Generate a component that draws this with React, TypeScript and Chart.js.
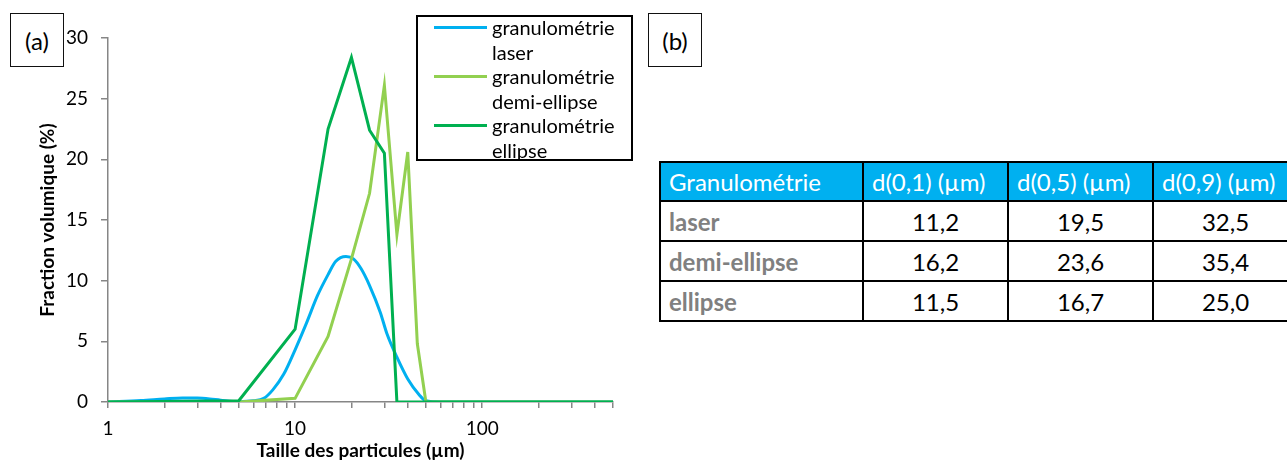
import React, { useEffect, useRef } from 'react';
import { Chart, registerables } from 'chart.js';

Chart.register(...registerables);

const FONT = 'Lato, "Open Sans", sans-serif';

// ---- Data ----
const seriesNames = ['granulométrie laser', 'granulométrie demi-ellipse', 'granulométrie ellipse'];
const seriesColors = ['#00B0F0', '#92D050', '#00B050'];

const laserSize = [1, 1.5, 2, 2.5, 3, 3.5, 4, 5, 6, 6.8, 7.6, 8.7, 10, 11.5, 13.2, 15, 16.5, 18.7, 20.5, 22.5, 25, 28.5, 31, 35, 40, 46, 50, 60, 500];
const laserFraction = [0, 0.12, 0.25, 0.33, 0.32, 0.25, 0.15, 0.03, 0.1, 0.3, 1.0, 2.3, 4.3, 6.5, 8.8, 10.5, 11.6, 12.0, 11.8, 11.0, 9.6, 7.4, 5.6, 3.7, 1.9, 0.6, 0.1, 0, 0];

const demiSize = [1, 5, 10, 15, 20, 25, 30, 35, 40, 45, 50, 500];
const demiFraction = [0, 0, 0.3, 5.4, 11.8, 17.2, 26.1, 13.8, 20.6, 4.8, 0, 0];

const ellipseSize = [1, 5, 10, 15, 20, 25, 30, 35, 500];
const ellipseFraction = [0, 0.1, 6, 22.5, 28.4, 22.4, 20.5, 0, 0];

const xTickValues = [1, 2, 3, 4, 5, 6, 7, 8, 9, 10, 20, 30, 40, 50, 60, 70, 80, 90, 100, 200, 300, 400, 500];
const xTickLabeled = [1, 10, 100];
const xMin = 1;
const xMax = 500;
const yMin = 0;
const yMax = 30;
const yStep = 5;

const xTitle = 'Taille des particules (µm)';
const yTitle = 'Fraction volumique (%)';

const tableHeader = ['Granulométrie', 'd(0,1) (µm)', 'd(0,5) (µm)', 'd(0,9) (µm)'];
const tableRowLabels = ['laser', 'demi-ellipse', 'ellipse'];
const d10 = ['11,2', '16,2', '11,5'];
const d50 = ['19,5', '23,6', '16,7'];
const d90 = ['32,5', '35,4', '25,0'];

const toPoints = (xs: number[], ys: number[]) => xs.map((x, i) => ({ x, y: ys[i] }));

function ChartCanvas() {
  const ref = useRef<HTMLCanvasElement | null>(null);
  useEffect(() => {
    if (!ref.current) return;
    const chart = new Chart(ref.current, {
      type: 'line',
      data: {
        datasets: [
          {
            label: seriesNames[0],
            data: toPoints(laserSize, laserFraction),
            borderColor: seriesColors[0],
            backgroundColor: seriesColors[0],
            borderWidth: 3,
            pointRadius: 0,
            cubicInterpolationMode: 'monotone',
            order: 3,
          },
          {
            label: seriesNames[1],
            data: toPoints(demiSize, demiFraction),
            borderColor: seriesColors[1],
            backgroundColor: seriesColors[1],
            borderWidth: 3,
            pointRadius: 0,
            tension: 0,
            order: 2,
          },
          {
            label: seriesNames[2],
            data: toPoints(ellipseSize, ellipseFraction),
            borderColor: seriesColors[2],
            backgroundColor: seriesColors[2],
            borderWidth: 3,
            pointRadius: 0,
            tension: 0,
            order: 1,
          },
        ],
      },
      options: {
        animation: false,
        responsive: false,
        devicePixelRatio: 1,
        layout: { padding: { top: 38, right: 27, left: 0, bottom: 0 } },
        plugins: { legend: { display: false }, tooltip: { enabled: false } },
        scales: {
          x: {
            type: 'logarithmic',
            min: xMin,
            max: xMax,
            afterBuildTicks: (s: any) => {
              s.ticks = xTickValues.map((v) => ({ value: v }));
            },
            afterFit: (s: any) => {
              s.height = 59;
            },
            ticks: {
              autoSkip: false,
              maxRotation: 0,
              padding: 9,
              color: '#000',
              font: { family: FONT, size: 19 },
              callback: (v: any) => (xTickLabeled.includes(Number(v)) ? String(v) : ''),
            },
            grid: { drawOnChartArea: false, tickLength: 6, color: '#868686', lineWidth: 1.5 },
            border: { color: '#868686', width: 1.5 },
            title: {
              display: true,
              text: xTitle,
              color: '#000',
              font: { family: FONT, size: 19, weight: 'bold' },
              padding: { top: 0, bottom: -1 },
            },
          },
          y: {
            min: yMin,
            max: yMax,
            afterFit: (s: any) => {
              s.width = 108;
            },
            ticks: {
              stepSize: yStep,
              padding: 13,
              color: '#000',
              font: { family: FONT, size: 19 },
            },
            grid: { drawOnChartArea: false, tickLength: 7, color: '#868686', lineWidth: 1.5 },
            border: { color: '#868686', width: 1.5 },
            title: {
              display: true,
              text: yTitle,
              color: '#000',
              font: { family: FONT, size: 19, weight: 'bold' },
              padding: { top: 36, bottom: 0 },
            },
          },
        },
      },
    } as any);
    return () => chart.destroy();
  }, []);
  return (
    <canvas
      ref={ref}
      width={640}
      height={461}
      style={{ position: 'absolute', left: 0, top: 0, width: 640, height: 461 }}
    />
  );
}

function Legend() {
  return (
    <div
      style={{
        position: 'absolute',
        left: 416,
        top: 15,
        width: 217,
        height: 146,
        border: '2px solid #000',
        boxSizing: 'border-box',
        background: '#fff',
      }}
    >
      {seriesNames.map((name, i) => {
        const words = name.split(' ');
        return (
          <div key={name} style={{ position: 'absolute', left: 16, top: -2 + i * 49, display: 'flex' }}>
            <div style={{ width: 53, height: 3.5, background: seriesColors[i], marginTop: 10.5 }} />
            <div style={{ marginLeft: 5, fontFamily: FONT, fontSize: 20, lineHeight: '24.5px', color: '#000' }}>
              {words.map((w) => (
                <div key={w}>{w}</div>
              ))}
            </div>
          </div>
        );
      })}
    </div>
  );
}

function PanelLabel({ left, top, text }: { left: number; top: number; text: string }) {
  return (
    <div
      style={{
        position: 'absolute',
        left,
        top,
        width: 54,
        height: 54,
        border: '1.5px solid #111',
        boxSizing: 'border-box',
        display: 'flex',
        alignItems: 'center',
        justifyContent: 'center',
        fontFamily: FONT,
        fontSize: 24,
        color: '#000',
        background: '#fff',
      }}
    >
      {text}
    </div>
  );
}

function DataTable() {
  // last column extends past the page edge (cut off like the reference)
  const colWidths = [203, 145, 145, 175];
  const lastExtra = 30;
  const cellBase: React.CSSProperties = {
    border: '2px solid #000',
    fontFamily: FONT,
    fontSize: 24,
    padding: '0 8px',
    whiteSpace: 'nowrap',
    overflow: 'hidden',
  };
  const cols = [d10, d50, d90];
  const total = colWidths.reduce((a, b) => a + b, 0);
  return (
    <div style={{ position: 'absolute', left: 659, top: 161, width: total + 20 }}>
      <table
        style={{
          borderCollapse: 'collapse',
          tableLayout: 'fixed',
          width: total,
          minWidth: total,
        }}
      >
        <colgroup>
          {colWidths.map((w, i) => (
            <col key={i} style={{ width: w }} />
          ))}
        </colgroup>
        <tbody>
          <tr style={{ height: 39 }}>
            {tableHeader.map((h) => (
              <td key={h} style={{ ...cellBase, background: '#00B0F0', color: '#fff', textAlign: 'left' }}>
                {h}
              </td>
            ))}
          </tr>
          {tableRowLabels.map((r, i) => (
            <tr key={r} style={{ height: 40 }}>
              <td style={{ ...cellBase, color: '#808080', fontWeight: 'bold', textAlign: 'left' }}>{r}</td>
              {cols.map((c, j) => (
                <td
                  key={j}
                  style={{
                    ...cellBase,
                    color: '#000',
                    textAlign: 'center',
                    paddingRight: j === cols.length - 1 ? 8 + lastExtra : 8,
                  }}
                >
                  {c[i]}
                </td>
              ))}
            </tr>
          ))}
        </tbody>
      </table>
    </div>
  );
}

export default function App() {
  return (
    <div
      style={{
        position: 'absolute',
        left: 0,
        top: 0,
        width: 1287,
        height: 461,
        overflow: 'hidden',
        background: '#fff',
      }}
    >
      <ChartCanvas />
      <Legend />
      <PanelLabel left={10} top={13} text="(a)" />
      <PanelLabel left={648} top={13} text="(b)" />
      <DataTable />
    </div>
  );
}
